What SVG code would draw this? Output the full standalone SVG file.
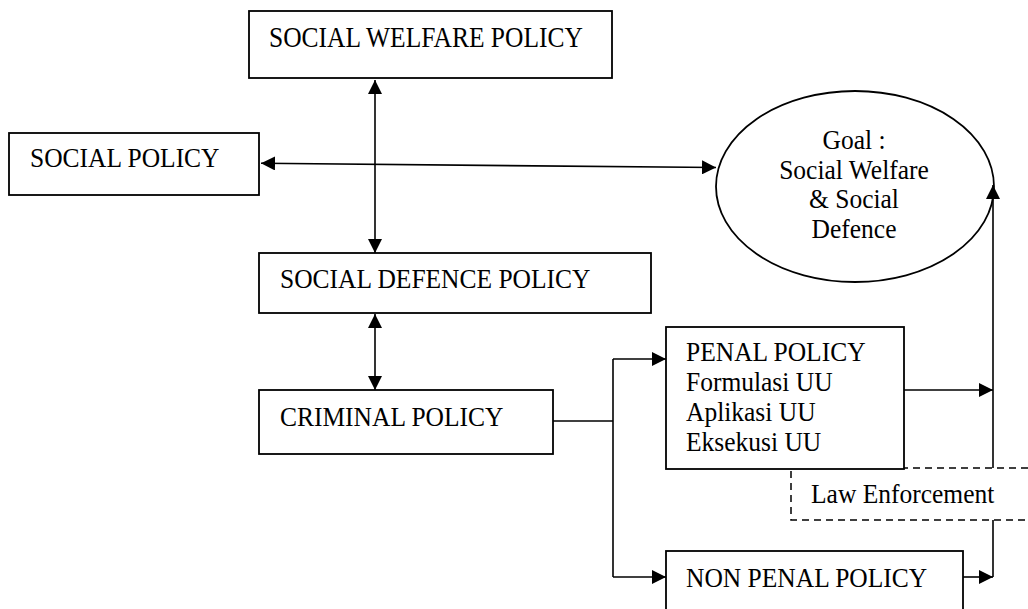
<svg xmlns="http://www.w3.org/2000/svg" width="1028" height="609" viewBox="0 0 1028 609">
<style>
.box{fill:#fff;stroke:#000;stroke-width:1.8}
.dash{fill:none;stroke:#000;stroke-width:1.5;stroke-dasharray:7 5}
.ln{fill:none;stroke:#000;stroke-width:1.6}
text{font-family:"Liberation Serif","Times New Roman",serif;font-size:25.5px;fill:#000}
.c{text-anchor:middle}
</style>
<defs>
<marker id="ah" viewBox="0 0 14 14" refX="14" refY="7" markerWidth="14" markerHeight="14" markerUnits="userSpaceOnUse" orient="auto-start-reverse">
<path d="M0,0 L14,7 L0,14 z" fill="#000"/>
</marker>
</defs>
<rect width="1028" height="609" fill="#fff"/>
<g id="law-enforcement">
<path class="dash" d="M1040,468 H791 V520 H1040"/>
<text transform="translate(811,503) scale(1,1.06)">Law Enforcement</text>
</g>
<g id="social-welfare-policy">
<rect class="box" x="249" y="11" width="363" height="67"/>
<text transform="translate(269,46.5) scale(1,1.12)">SOCIAL WELFARE POLICY</text>
</g>
<g id="social-policy">
<rect class="box" x="9" y="133" width="250" height="62"/>
<text transform="translate(30,166.5) scale(1,1.06)">SOCIAL POLICY</text>
</g>
<g id="goal">
<ellipse cx="855" cy="186.5" rx="139" ry="95.5" fill="#fff" stroke="#000" stroke-width="1.8"/>
<text class="c" transform="translate(854,149) scale(1,1.06)">Goal :</text>
<text class="c" transform="translate(854,179) scale(1,1.06)">Social Welfare</text>
<text class="c" transform="translate(854,208) scale(1,1.06)">&amp; Social</text>
<text class="c" transform="translate(854,238) scale(1,1.06)">Defence</text>
</g>
<g id="social-defence-policy">
<rect class="box" x="259" y="253" width="392" height="60"/>
<text transform="translate(280,288) scale(1,1.08)">SOCIAL DEFENCE POLICY</text>
</g>
<g id="criminal-policy">
<rect class="box" x="259" y="390" width="294" height="64"/>
<text transform="translate(280,425.5) scale(1,1.08)">CRIMINAL POLICY</text>
</g>
<g id="penal-policy">
<rect class="box" x="666" y="327" width="238" height="142"/>
<text transform="translate(686,361) scale(1,1.04)">PENAL POLICY</text>
<text transform="translate(686,391) scale(1,1.04)">Formulasi UU</text>
<text transform="translate(686,421) scale(1,1.04)">Aplikasi UU</text>
<text transform="translate(686,451) scale(1,1.04)">Eksekusi UU</text>
</g>
<g id="non-penal-policy">
<rect class="box" x="666" y="551" width="297" height="70"/>
<text transform="translate(686,587) scale(1,1.06)">NON PENAL POLICY</text>
</g>
<g id="connectors">
<line class="ln" x1="375" y1="80" x2="375" y2="253" marker-start="url(#ah)" marker-end="url(#ah)"/>
<line class="ln" x1="261" y1="163.3" x2="716" y2="167.5" marker-start="url(#ah)" marker-end="url(#ah)"/>
<line class="ln" x1="375" y1="314" x2="375" y2="390" marker-start="url(#ah)" marker-end="url(#ah)"/>
<path class="ln" d="M553,421 H613"/>
<path class="ln" d="M613,359 V577"/>
<line class="ln" x1="613" y1="359" x2="666" y2="359" marker-end="url(#ah)"/>
<line class="ln" x1="613" y1="577" x2="666" y2="577" marker-end="url(#ah)"/>
<line class="ln" x1="904" y1="390" x2="993" y2="390" marker-end="url(#ah)"/>
<line class="ln" x1="963" y1="577" x2="993" y2="577" marker-end="url(#ah)"/>
<line class="ln" x1="993" y1="468" x2="993" y2="185" marker-end="url(#ah)"/>
<path class="ln" d="M993,520 V577"/>
</g>
</svg>
